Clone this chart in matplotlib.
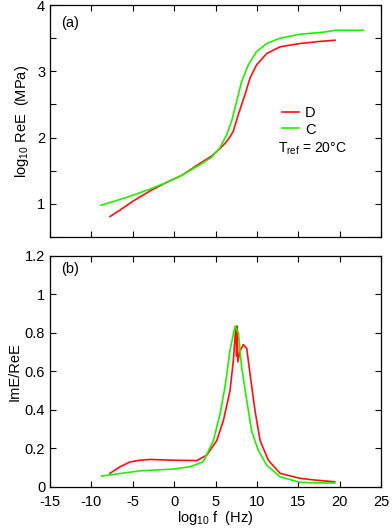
import numpy as np
import matplotlib
matplotlib.use("Agg")
import matplotlib.pyplot as plt

plt.rcParams['font.family'] = ['Liberation Sans', 'DejaVu Sans']
plt.rcParams['mathtext.default'] = 'regular'
plt.rcParams['axes.unicode_minus'] = False
plt.rcParams['font.size'] = 10

# panel (a): log10 ReE vs log10 f
d_re_x = [-7.75, -6.5, -5, -3, -1, 0.9, 3.1, 4.5, 5.5, 6.2, 6.8, 7.15, 7.76, 8.56, 9.17, 9.97, 11.19, 12.8, 15.2, 17.5, 19.44]
d_re_y = [0.81, 0.91, 1.04, 1.19, 1.32, 1.43, 1.61, 1.72, 1.83, 1.92, 2.02, 2.10, 2.35, 2.65, 2.90, 3.10, 3.27, 3.37, 3.42, 3.45, 3.47]
c_re_x = [-8.84, -7, -5, -3, -1, 0.9, 3.1, 4.5, 5.5, 6.3, 6.95, 7.56, 8.16, 8.97, 9.97, 11.19, 12.8, 15.2, 18.0, 19.5, 22.86]
c_re_y = [0.98, 1.05, 1.13, 1.22, 1.32, 1.43, 1.59, 1.70, 1.84, 2.03, 2.25, 2.55, 2.85, 3.10, 3.30, 3.42, 3.50, 3.56, 3.59, 3.62, 3.62]

# panel (b): ImE/ReE vs log10 f
d_tan_x = [-7.75, -6.54, -5.33, -4.1, -2.9, -0.1, 2.73, 3.93, 5.14, 5.95, 6.75, 7.15, 7.4, 7.48, 7.55, 7.62, 7.7, 7.96, 8.36, 8.77, 9.17, 9.77, 10.38, 11.38, 12.8, 15.2, 17.0, 19.4]
d_tan_y = [0.071, 0.105, 0.13, 0.139, 0.143, 0.139, 0.137, 0.165, 0.24, 0.345, 0.50, 0.655, 0.80, 0.835, 0.68, 0.835, 0.65, 0.706, 0.74, 0.72, 0.586, 0.397, 0.242, 0.139, 0.071, 0.045, 0.036, 0.027]
c_tan_x = [-8.76, -4.1, -0.1, 1.9, 3.5, 4.74, 5.54, 6.15, 6.75, 7.36, 7.76, 8.16, 8.77, 9.37, 10.17, 11.19, 12.8, 15.2, 17.0, 19.4]
c_tan_y = [0.057, 0.084, 0.093, 0.105, 0.13, 0.24, 0.38, 0.52, 0.71, 0.835, 0.80, 0.62, 0.45, 0.29, 0.19, 0.113, 0.053, 0.024, 0.022, 0.02]

red = '#ff1010'
green = '#22ee00'

fig = plt.figure(figsize=(3.92, 5.28), dpi=100)
ax1 = fig.add_axes([0.1276, 0.551, 0.8444, 0.4394])
ax2 = fig.add_axes([0.1276, 0.0777, 0.8444, 0.4375])

for ax in (ax1, ax2):
    ax.set_xlim(-15, 25)
    ax.set_xticks(np.arange(-15, 26, 5))
    ax.tick_params(direction='in', top=True, right=True, length=4, width=0.8, labelsize=10.5)
    ax.tick_params(axis='x', pad=6)
    for s in ax.spines.values():
        s.set_linewidth(0.9)

ax1.plot(d_re_x, d_re_y, color=red, lw=1.2, label='D')
ax1.plot(c_re_x, c_re_y, color=green, lw=1.2, label='C')
ax1.set_ylim(0.5, 4)
ax1.set_yticks(np.arange(0.5, 4.01, 0.5))
ax1.set_yticklabels(['' if v % 1 else '%d' % v for v in np.arange(0.5, 4.01, 0.5)])
ax1.set_xticklabels([])
ax1.set_ylabel('log$_{10}$ ReE  (MPa)', fontsize=10.5)
ax1.text(0.035, 0.955, '(a)', transform=ax1.transAxes, va='top', fontsize=10.5)
ax1.legend(loc='upper left', bbox_to_anchor=(0.66, 0.62), frameon=False,
           handlelength=1.2, handletextpad=0.4, labelspacing=0.15, fontsize=10.5)
ax1.text(0.69, 0.365, 'T$_{ref}$ = 20°C', transform=ax1.transAxes, fontsize=10)

ax2.plot(d_tan_x, d_tan_y, color=red, lw=1.2)
ax2.plot(c_tan_x, c_tan_y, color=green, lw=1.2)
ax2.set_ylim(0, 1.2)
ax2.set_yticks(np.arange(0, 1.21, 0.2))
ax2.set_yticklabels(['0', '0.2', '0.4', '0.6', '0.8', '1', '1.2'])
ax2.set_ylabel('ImE/ReE', fontsize=10.5, labelpad=2)
ax2.set_xlabel('log$_{10}$ f  (Hz)', fontsize=10.5, labelpad=0)
ax2.text(0.035, 0.975, '(b)', transform=ax2.transAxes, va='top', fontsize=10.5)

fig.savefig('out.png', dpi=100)
